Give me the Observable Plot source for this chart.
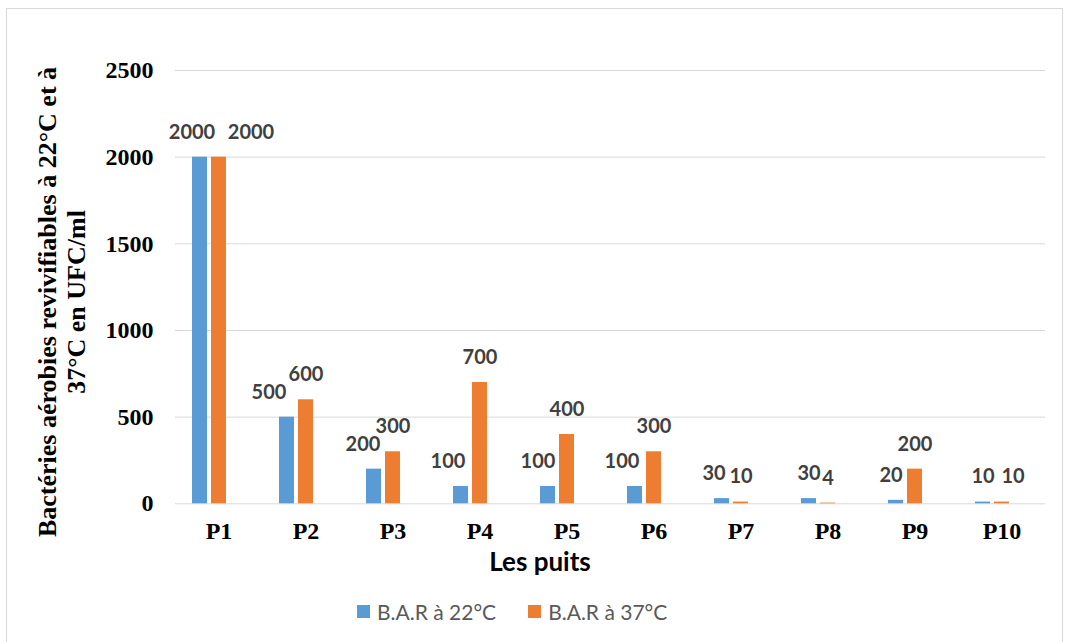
<!DOCTYPE html>
<html>
<head>
<meta charset="utf-8">
<script src="https://cdn.jsdelivr.net/npm/d3@7"></script>
<script src="https://cdn.jsdelivr.net/npm/@observablehq/plot@0.6"></script>
<style>
  body { margin: 0; background: #fff; }
  #chart { position: relative; width: 1065px; height: 642px; overflow: hidden; background: #fff; }
  #frame { position: absolute; left: 6px; top: 8px; width: 1057px; height: 660px; border: 1px solid #d9d9d9; box-sizing: border-box; pointer-events: none; }
  #plot { position: absolute; left: 0; top: 0; }
  #legend { position: absolute; left: 357px; top: 590px; height: 43px; display: flex; align-items: center;
            font-family: Lato, sans-serif; font-size: 21px; color: #595959; }
  .item { display: flex; align-items: center; margin-right: 32px; }
  .swatch { width: 13px; height: 13px; margin-right: 7px; }
</style>
</head>
<body>
<div id="chart">
  <div id="frame"></div>
  <div id="plot"></div>
  <div id="legend"></div>
</div>
<script>
// Wells sampled and bacterial counts (UFC/ml) at the two incubation temperatures
const puits = ["P1", "P2", "P3", "P4", "P5", "P6", "P7", "P8", "P9", "P10"];
const bar22 = [2000, 500, 200, 100, 100, 100, 30, 30, 20, 10];
const bar37 = [2000, 600, 300, 700, 400, 300, 10, 4, 200, 10];
const series = ["B.A.R à 22°C", "B.A.R à 37°C"];
const palette = ["#5b9bd5", "#ed7d31"];
const yTicks = [0, 500, 1000, 1500, 2000, 2500];

// Horizontal nudges (px) for the value labels, so neighbouring labels don't collide
const nudge22 = [-8, -18, -11, -13, -10, -13, -8, 0, -5, 0];
const nudge37 = [32, 0, 0, 0, 0, 0, 0, 0, 0, 11];

const rows = puits.flatMap((p, i) => [
  {puits: p, serie: series[0], value: bar22[i]},
  {puits: p, serie: series[1], value: bar37[i]}
]);
const nudges = puits.flatMap((p, i) => [nudge22[i], nudge37[i]]);

const labelMarks = rows.map((d, i) => Plot.text([d], {
  fx: "puits", x: "serie", y: "value",
  text: r => String(r.value),
  dx: nudges[i], dy: -25, lineAnchor: "middle",
  fill: "#404040", fontFamily: "Lato", fontWeight: "bold", fontSize: 20
}));

const chart = Plot.plot({
  width: 1065,
  height: 590,
  marginLeft: 174,
  marginRight: 19,
  marginTop: 70,
  marginBottom: 86.7,
  style: {fontFamily: "'Liberation Serif', serif", fontSize: "24px", fontWeight: "bold", color: "#000", background: "transparent"},
  fx: {domain: puits, padding: 0, axis: "bottom", label: null, tickSize: 0, tickPadding: 18},
  x: {domain: series, axis: null, paddingInner: 0.21, paddingOuter: 1.33, align: 0.32},
  y: {domain: [0, 2500], ticks: yTicks, tickFormat: d => String(d), tickSize: 0, tickPadding: 22, label: null},
  color: {domain: series, range: palette},
  marks: [
    Plot.ruleY(yTicks, {stroke: "#d9d9d9", strokeWidth: 1}),
    Plot.barY(rows, {fx: "puits", x: "serie", y: "value", fill: "serie"}),
    ...labelMarks
  ]
});
document.getElementById("plot").appendChild(chart);

// Axis titles
const svg = d3.select(chart);
svg.append("text")
  .attr("x", 540).attr("y", 571)
  .attr("text-anchor", "middle")
  .style("font-family", "Lato, sans-serif").style("font-weight", "bold").style("font-size", "26px")
  .attr("fill", "#000")
  .text("Les puits");

const yTitle = ["Bactéries aérobies revivifiables à 22°C et à", "37°C en UFC/ml"];
yTitle.forEach((line, i) => {
  svg.append("text")
    .attr("transform", `translate(${56 + i * 29},302) rotate(-90)`)
    .attr("text-anchor", "middle")
    .style("font-family", "'Liberation Serif', serif").style("font-weight", "bold").style("font-size", "26px")
    .attr("fill", "#000")
    .text(line);
});

// Legend
const color = chart.scale("color");
const legend = d3.select("#legend");
series.forEach((s, i) => {
  const item = legend.append("div").attr("class", "item");
  item.append("div").attr("class", "swatch").style("background", color.range[i]);
  item.append("span").text(s);
});
</script>
</body>
</html>
